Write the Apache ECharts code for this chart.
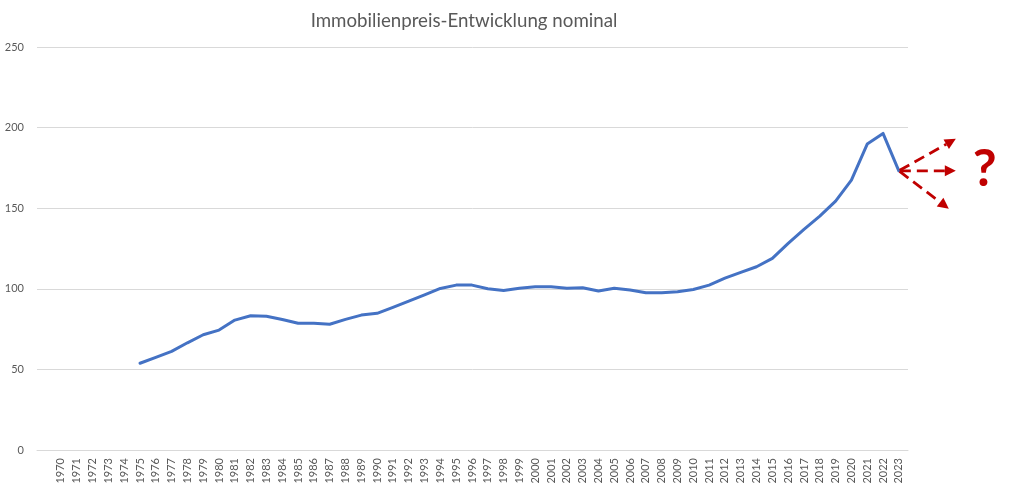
<!DOCTYPE html>
<html>
<head>
<meta charset="utf-8">
<script src="https://cdn.jsdelivr.net/npm/echarts@6/dist/echarts.min.js"></script>
<style>
html,body{margin:0;padding:0;background:#fff;}
#main{width:1024px;height:493px;}
</style>
</head>
<body>
<div id="main"></div>
<script>
// ---- data ----
const years = [1970,1971,1972,1973,1974,1975,1976,1977,1978,1979,1980,1981,1982,1983,1984,1985,1986,1987,1988,1989,1990,1991,1992,1993,1994,1995,1996,1997,1998,1999,2000,2001,2002,2003,2004,2005,2006,2007,2008,2009,2010,2011,2012,2013,2014,2015,2016,2017,2018,2019,2020,2021,2022,2023];
const priceIndex = [null,null,null,null,null,
  53.8,57.5,61.2,66.5,71.5,74.4,80.6,83.3,83.0,81.0,78.6,78.6,78.0,
  81.0,83.7,84.8,88.5,92.4,96.2,100.2,102.3,102.3,100.0,99.0,100.3,
  101.3,101.3,100.4,100.7,98.6,100.4,99.3,97.6,97.6,98.2,99.6,102.3,
  106.6,110.2,113.7,118.9,128.2,136.9,145.1,154.4,167.4,189.8,196.4,173.2];
const yTicks = [0,50,100,150,200,250];
const titleText = 'Immobilienpreis-Entwicklung nominal';

const FONT = 'Lato, "Open Sans", sans-serif';
const chart = echarts.init(document.getElementById('main'), null, {renderer:'canvas'});
const seriesData = years.map((y,i)=>[y, priceIndex[i]]);

chart.setOption({
  backgroundColor:'#ffffff',
  animation:false,
  title:{
    text:titleText, left:459, top:6, textAlign:'center',
    textStyle:{fontFamily:FONT, fontSize:18.7, fontWeight:'normal', color:'#595959'}
  },
  grid:{left:37, right:116, top:47, bottom:43, containLabel:false},
  xAxis:{
    type:'value', min:1968.485, max:2023.58,
    axisLine:{show:true, lineStyle:{color:'#d9d9d9', width:1}},
    axisTick:{show:false},
    splitLine:{show:false},
    axisLabel:{
      customValues: years,
      rotate:90, margin:8, fontSize:11, color:'#595959', fontFamily:FONT,
      formatter:(v)=>String(Math.round(v))
    }
  },
  yAxis:{
    type:'value', min:yTicks[0], max:yTicks[yTicks.length-1], interval:50,
    axisLine:{show:false}, axisTick:{show:false},
    splitLine:{lineStyle:{color:'#d9d9d9', width:1}},
    axisLabel:{margin:13, fontSize:11, color:'#595959', fontFamily:FONT}
  },
  series:[{
    type:'line', data:seriesData, showSymbol:false, symbol:'none',
    lineStyle:{color:'#4472C4', width:3, join:'round', cap:'round'},
    connectNulls:false
  }]
});

// annotation arrows from last data point
const lastIdx = years.length-1;
const p0 = chart.convertToPixel({xAxisIndex:0,yAxisIndex:0},[years[lastIdx], priceIndex[lastIdx]]);
const red = '#C00000';
const ends = [[57,-32],[57,0],[50,38]];
const gfx = [];
ends.forEach(([dx,dy])=>{
  const len = Math.hypot(dx,dy);
  const ux = dx/len, uy = dy/len;
  const ex = p0[0]+dx, ey = p0[1]+dy;
  const headL = 11, headW = 5.5;
  const bx = ex - ux*headL, by = ey - uy*headL;
  gfx.push({
    type:'line', shape:{x1:p0[0]+ux*1, y1:p0[1]+uy*1, x2:bx, y2:by},
    style:{stroke:red, lineWidth:2.8, lineDash:[11,6]}, z:10
  });
  gfx.push({
    type:'polygon',
    shape:{points:[[ex,ey],[bx - uy*headW, by + ux*headW],[bx + uy*headW, by - ux*headW]]},
    style:{fill:red}, z:10
  });
});
gfx.push({
  type:'text', x:p0[0]+86, y:p0[1]-2,
  style:{text:'?', fill:red, font:'bold 52px ' + FONT, textAlign:'center', textVerticalAlign:'middle'},
  z:10
});
chart.setOption({graphic:gfx});
</script>
</body>
</html>
